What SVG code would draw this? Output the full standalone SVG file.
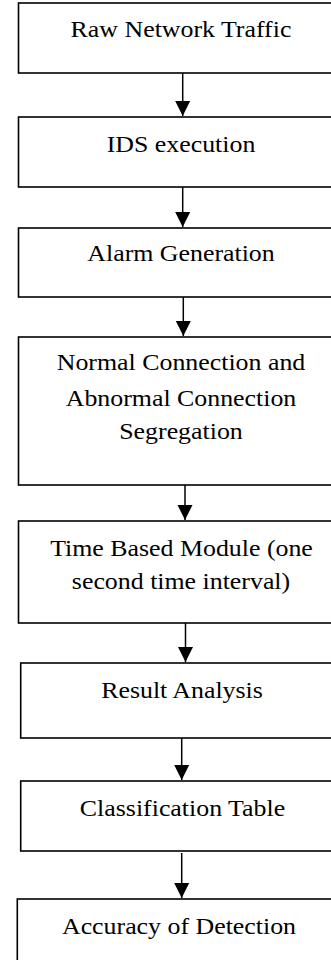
<svg xmlns="http://www.w3.org/2000/svg" width="331" height="960" viewBox="0 0 331 960">
<style>
.box{fill:#fff;stroke:#000;stroke-width:1.6}
.lbl{font-family:"Liberation Serif","Times New Roman",serif;font-size:22.5px;fill:#000;text-anchor:middle}
.conn{stroke:#000;stroke-width:1.5;fill:none}
</style>
<defs>
<marker id="ah" markerUnits="userSpaceOnUse" markerWidth="16" markerHeight="16" viewBox="0 0 16 16" refX="15" refY="8" orient="auto">
<path d="M0,0.5 L15,8 L0,15.5 Z" fill="#000"/>
</marker>
</defs>
<rect width="331" height="960" fill="#fff"/>
<g id="n1"><rect class="box" x="18.5" y="3" width="330" height="70"/>
<text class="lbl" transform="translate(181,37.3) scale(1.15,1)">Raw Network Traffic</text></g>
<g id="n2"><rect class="box" x="18.5" y="117" width="330" height="70"/>
<text class="lbl" transform="translate(181,151.7) scale(1.15,1)">IDS execution</text></g>
<g id="n3"><rect class="box" x="18.5" y="228" width="330" height="69"/>
<text class="lbl" transform="translate(181,260.7) scale(1.15,1)">Alarm Generation</text></g>
<g id="n4"><rect class="box" x="18.5" y="337" width="330" height="148"/>
<text class="lbl" transform="translate(181,370) scale(1.15,1)">Normal Connection and</text>
<text class="lbl" transform="translate(181,406) scale(1.15,1)">Abnormal Connection</text>
<text class="lbl" transform="translate(181,439.3) scale(1.15,1)">Segregation</text></g>
<g id="n5"><rect class="box" x="18.5" y="521" width="330" height="102"/>
<text class="lbl" transform="translate(181.5,555.7) scale(1.15,1)">Time Based Module (one</text>
<text class="lbl" transform="translate(181,589.3) scale(1.15,1)">second time interval)</text></g>
<g id="n6"><rect class="box" x="20.7" y="663" width="330" height="75"/>
<text class="lbl" transform="translate(182,698.3) scale(1.15,1)">Result Analysis</text></g>
<g id="n7"><rect class="box" x="20.7" y="781" width="330" height="70"/>
<text class="lbl" transform="translate(182.5,816) scale(1.15,1)">Classification Table</text></g>
<g id="n8"><rect class="box" x="17.3" y="899" width="330" height="80"/>
<text class="lbl" transform="translate(179,934) scale(1.15,1)">Accuracy of Detection</text></g>
<g id="connectors">
<line class="conn" x1="182.7" y1="73" x2="182.7" y2="116" marker-end="url(#ah)"/>
<line class="conn" x1="182.7" y1="187" x2="182.7" y2="227" marker-end="url(#ah)"/>
<line class="conn" x1="183.3" y1="297" x2="183.3" y2="336" marker-end="url(#ah)"/>
<line class="conn" x1="185" y1="485" x2="185" y2="520" marker-end="url(#ah)"/>
<line class="conn" x1="185.5" y1="623" x2="185.5" y2="662" marker-end="url(#ah)"/>
<line class="conn" x1="181.7" y1="738" x2="181.7" y2="780" marker-end="url(#ah)"/>
<line class="conn" x1="181.7" y1="853" x2="181.7" y2="898" marker-end="url(#ah)"/>
</g>
</svg>
